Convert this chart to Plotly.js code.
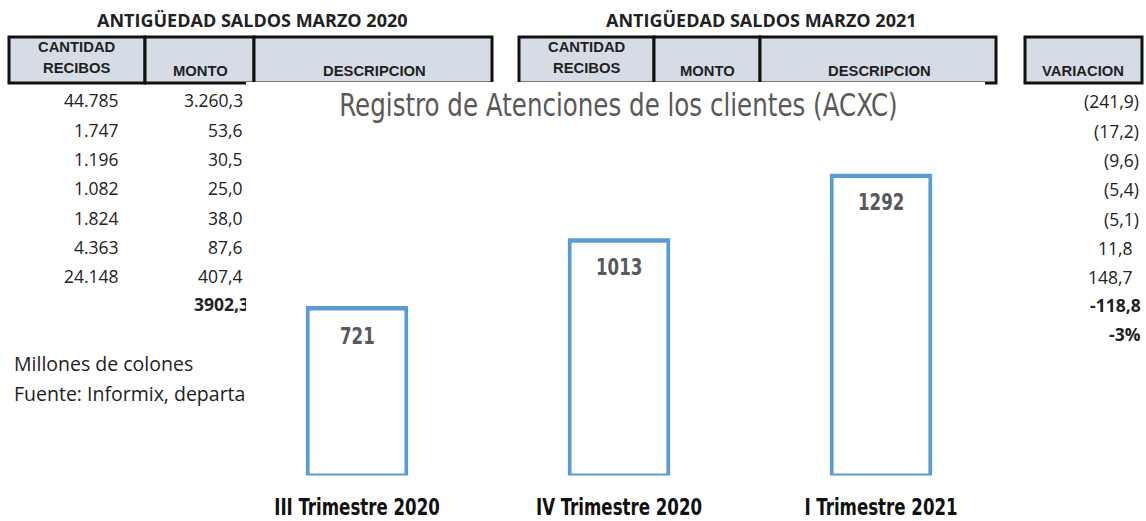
<!DOCTYPE html>
<html>
<head>
<meta charset="utf-8">
<script src="https://cdn.plot.ly/plotly-3.0.1.min.js"></script>
<style>
  html, body { margin: 0; padding: 0; background: #ffffff; }
  #wrap { position: relative; width: 1146px; height: 521px; overflow: hidden; }
  #bg { position: absolute; left: 0; top: 0; width: 1146px; height: 521px; }
  #fg { position: absolute; left: 246px; top: 82px; width: 739px; height: 366px;
        transform: scaleY(1.2); transform-origin: 0 0; }
</style>
</head>
<body>
<div id="wrap">
  <div id="bg"></div>
  <div id="fg"></div>
</div>
<script>
// ---------------- DATA ----------------
const categories = ["III Trimestre 2020", "IV Trimestre 2020", "I Trimestre 2021"];
const atenciones = [721, 1013, 1292];
const chartTitle = "Registro de Atenciones de los clientes (ACXC)";

const tableTitle2020 = "ANTIGÜEDAD SALDOS MARZO 2020";
const tableTitle2021 = "ANTIGÜEDAD SALDOS MARZO 2021";
const headerCantidad = ["CANTIDAD", "RECIBOS"];
const headerMonto = "MONTO";
const headerDescripcion = "DESCRIPCION";
const headerVariacion = "VARIACION";

const cantidad2020 = ["44.785", "1.747", "1.196", "1.082", "1.824", "4.363", "24.148"];
const monto2020 = ["3.260,3", "53,6", "30,5", "25,0", "38,0", "87,6", "407,4"];
const montoTotal2020 = "3902,3";
const variacion = ["(241,9)", "(17,2)", "(9,6)", "(5,4)", "(5,1)", "11,8", "148,7"];
const variacionTotal = "-118,8";
const variacionPct = "-3%";
const notes = ["Millones de colones", "Fuente: Informix, departa"];

// ---------------- BACKGROUND (table) ----------------
const W = 1146, H = 521;
const px = x => x / W;
const py = y => 1 - y / H;
const NARROW = '"DejaVu Sans Condensed", "DejaVu Sans", sans-serif';
const BODY = '"Open Sans", "Noto Sans", sans-serif';
const HEAD = '"Liberation Sans", Arial, sans-serif';
const TXT = '#222222';

const shapes = [];
function cell(x0, x1) {
  shapes.push({type: 'rect', xref: 'paper', yref: 'paper',
    x0: px(x0), x1: px(x1), y0: py(83), y1: py(37),
    fillcolor: '#d6dce5', line: {color: '#111111', width: 3}});
}
[[9,145],[145,254],[254,492],[519,654],[654,760],[760,996],[1025,1142]].forEach(c => cell(c[0], c[1]));

const ann = [];
function txt(text, x, y, anchor, font) {
  ann.push({text: text, x: px(x), y: py(y), xref: 'paper', yref: 'paper',
    xanchor: anchor, yanchor: 'middle', showarrow: false, borderpad: 0, borderwidth: 0,
    font: font});
}
const fTitle = {family: BODY, size: 18, color: TXT, weight: 700};
const fHead = {family: HEAD, size: 14.8, color: '#1f1f1f', weight: 700};
const fBody = {family: BODY, size: 17.5, color: TXT};
const fNote = {family: BODY, size: 19.5, color: TXT};
const fBodyB = {family: BODY, size: 17.5, color: TXT, weight: 700};

txt(tableTitle2020, 252, 20, 'center', fTitle);
txt(tableTitle2021, 761, 20, 'center', fTitle);

[[77],[586.5]].forEach((c) => {
  txt(headerCantidad[0], c[0], 47, 'center', fHead);
  txt(headerCantidad[1], c[0], 68, 'center', fHead);
});
txt(headerMonto, 200, 71, 'center', fHead);
txt(headerMonto, 707, 71, 'center', fHead);
txt(headerDescripcion, 374, 71, 'center', fHead);
txt(headerDescripcion, 879, 71, 'center', fHead);
txt(headerVariacion, 1083, 71, 'center', fHead);

const rowY = [100, 130, 159, 188, 218, 247, 276];
cantidad2020.forEach((v, i) => txt(v, 119, rowY[i], 'right', fBody));
monto2020.forEach((v, i) => txt(v, 243, rowY[i], 'right', fBody));
txt(montoTotal2020, 194, 304, 'left', fBodyB);

const varRight = [1139, 1139, 1139, 1139, 1139, 1133, 1133];
variacion.forEach((v, i) => txt(v, varRight[i], rowY[i] + 1, 'right', fBody));
txt(variacionTotal, 1141, 305, 'right', fBodyB);
txt(variacionPct, 1141, 334, 'right', fBodyB);

txt(notes[0], 14, 363, 'left', fNote);
txt(notes[1], 14, 393, 'left', fNote);

Plotly.newPlot('bg', [], {
  width: W, height: H,
  margin: {l: 0, r: 0, t: 0, b: 0},
  paper_bgcolor: '#ffffff', plot_bgcolor: '#ffffff',
  xaxis: {visible: false}, yaxis: {visible: false},
  showlegend: false,
  shapes: shapes, annotations: ann
}, {staticPlot: true, displayModeBar: false});

// ---------------- FOREGROUND (chart, stretched 1.2x vertically like the pasted picture) ----------------
const FW = 739, FH = 366, SY = 1.2;
const labelAnn = atenciones.map((v, i) => ({
  x: categories[i], y: v, xref: 'x', yref: 'y',
  text: '<b>' + v + '</b>', showarrow: false,
  yanchor: 'middle', yshift: -27 / SY,
  font: {family: NARROW, size: 18.5, color: '#595959'}
}));

Plotly.newPlot('fg', [{
  type: 'bar',
  x: categories,
  y: atenciones,
  width: 0.376,
  marker: {color: '#ffffff', line: {color: '#5b9bd5', width: 3.7}},
  hoverinfo: 'none'
}], {
  width: FW, height: FH,
  margin: {l: 0, r: 0, t: 0, b: 38},
  paper_bgcolor: '#ffffff', plot_bgcolor: '#ffffff',
  showlegend: false,
  title: {
    text: chartTitle, x: 372.5 / FW, xref: 'container', xanchor: 'center',
    y: 1 - 18.5 / FH, yref: 'container', yanchor: 'middle',
    font: {family: NARROW, size: 27.3, color: '#595959'}
  },
  xaxis: {
    type: 'category', range: [-111 / 262, (FW - 111) / 262],
    showgrid: false, zeroline: false, showline: false, ticks: '',
    ticklabelstandoff: 13,
    tickfont: {family: NARROW, size: 18.5, color: '#111111', weight: 700}
  },
  yaxis: {range: [0, 328 / (0.232 / SY)], visible: false, fixedrange: true},
  annotations: labelAnn
}, {staticPlot: true, displayModeBar: false});
</script>
</body>
</html>
